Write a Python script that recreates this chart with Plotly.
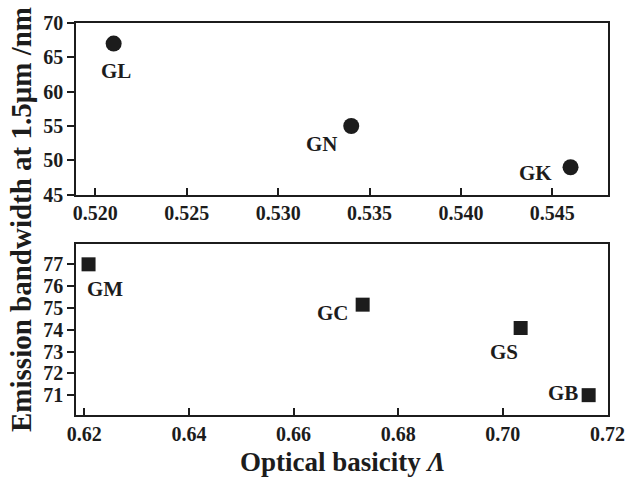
import plotly.graph_objects as go
from plotly.subplots import make_subplots

# Top panel data
top_names = ["GL", "GN", "GK"]
top_basicity = [0.521, 0.534, 0.546]
top_bandwidth = [67.0, 55.0, 49.0]

# Bottom panel data
bot_names = ["GM", "GC", "GS", "GB"]
bot_basicity = [0.6208, 0.6732, 0.7034, 0.7164]
bot_bandwidth = [77.0, 75.15, 74.08, 71.0]

# label offsets in pixels (style)
top_offsets = [(2, -27), (-29, -18), (-35, -6)]
bot_offsets = [(16, -25), (-30, -8), (-17, -24), (-26, 2)]

FONT = "Liberation Serif"
INK = "#1c1c1c"

fig = make_subplots(rows=2, cols=1, vertical_spacing=0.0)

fig.add_trace(go.Scatter(x=top_basicity, y=top_bandwidth, mode="markers",
                         marker=dict(symbol="circle", size=16, color=INK),
                         showlegend=False), row=1, col=1)
fig.add_trace(go.Scatter(x=bot_basicity, y=bot_bandwidth, mode="markers",
                         marker=dict(symbol="square", size=14, color=INK),
                         showlegend=False), row=2, col=1)

annots = []
for n, xv, yv, (dx, dy) in zip(top_names, top_basicity, top_bandwidth, top_offsets):
    annots.append(dict(x=xv, y=yv, xref="x", yref="y", text=f"<b>{n}</b>", showarrow=False,
                       xshift=dx, yshift=dy, font=dict(family=FONT, size=21, color=INK)))
for n, xv, yv, (dx, dy) in zip(bot_names, bot_basicity, bot_bandwidth, bot_offsets):
    annots.append(dict(x=xv, y=yv, xref="x2", yref="y2", text=f"<b>{n}</b>", showarrow=False,
                       xshift=dx, yshift=dy, font=dict(family=FONT, size=21, color=INK)))

annots.append(dict(x=-0.1034, y=0.5, xref="paper", yref="paper", textangle=-90,
                   text="<b>Emission bandwidth at 1.5μm /nm</b>", showarrow=False,
                   xanchor="center", yanchor="middle",
                   font=dict(family=FONT, size=29, color=INK)))
annots.append(dict(x=0.501, y=-0.119, xref="paper", yref="paper",
                   text="<b>Optical basicity <i>Λ</i></b>", showarrow=False,
                   xanchor="center", yanchor="middle",
                   font=dict(family=FONT, size=27, color=INK)))

axis_common = dict(showline=True, linecolor=INK, linewidth=1.5, mirror=True,
                   showgrid=False, zeroline=False, ticklen=7, tickwidth=1.5,
                   tickcolor=INK,
                   tickfont=dict(family=FONT, size=20, color=INK, weight="bold"))

fig.update_xaxes(**axis_common, ticks="inside")
fig.update_yaxes(**axis_common, ticks="outside")

fig.update_layout(
    width=640, height=477,
    margin=dict(l=76, r=32, t=20, b=62),
    paper_bgcolor="white", plot_bgcolor="white",
    annotations=annots,
    xaxis=dict(domain=[0, 1], range=[0.51894, 0.54805], dtick=0.005, tick0=0.52, tickformat=".3f"),
    yaxis=dict(domain=[0.562, 1.0], range=[45, 70], dtick=5, tick0=45),
    xaxis2=dict(domain=[0, 1], range=[0.6184, 0.7201], dtick=0.02, tick0=0.62, tickformat=".2f"),
    yaxis2=dict(domain=[0.0, 0.435], range=[70.09, 77.91], dtick=1, tick0=71),
)

fig.write_html("out.html")
